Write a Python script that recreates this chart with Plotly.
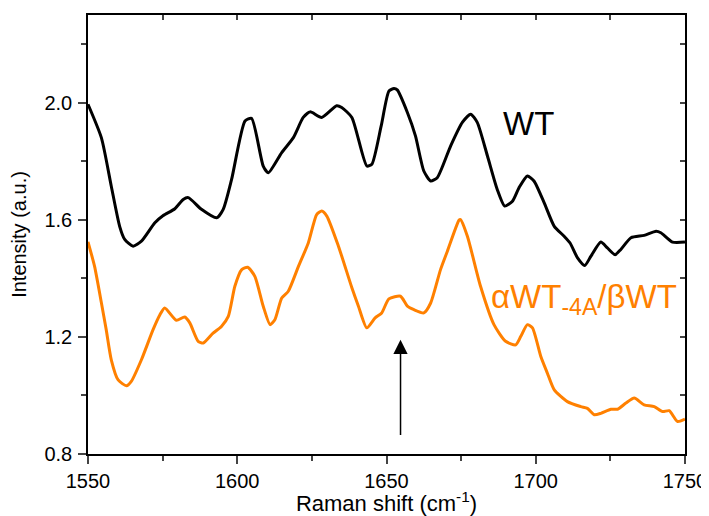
import plotly.graph_objects as go

# WT spectrum
wt_x = [1550.0, 1554.5, 1557.8, 1560.6, 1562.3, 1565.1, 1567.9, 1572.4, 1575.2, 1579.1,
        1581.9, 1583.6, 1588.0, 1593.1, 1595.3, 1598.1, 1602.6, 1604.8, 1608.7, 1610.4,
        1614.9, 1618.8, 1622.1, 1624.4, 1628.3, 1633.3, 1635.0, 1638.4, 1643.4, 1645.1,
        1648.2, 1650.8, 1652.5, 1653.6, 1657.0, 1659.7, 1662.5, 1664.8, 1667.0, 1671.5,
        1675.4, 1678.2, 1680.4, 1683.8, 1687.1, 1689.6, 1692.2, 1694.4, 1697.2, 1699.4,
        1702.8, 1706.2, 1709.5, 1711.5, 1714.0, 1716.4, 1718.5, 1721.8, 1724.0, 1726.6,
        1728.5, 1731.9, 1736.3, 1740.3, 1741.9, 1745.8, 1750.0]
wt_y = [1.995, 1.880, 1.715, 1.578, 1.533, 1.510, 1.527, 1.590, 1.615, 1.638,
        1.670, 1.676, 1.636, 1.607, 1.636, 1.738, 1.938, 1.947, 1.784, 1.761,
        1.830, 1.881, 1.950, 1.969, 1.950, 1.990, 1.984, 1.950, 1.784, 1.790,
        1.920, 2.040, 2.049, 2.044, 1.967, 1.887, 1.767, 1.733, 1.744, 1.853,
        1.933, 1.961, 1.933, 1.819, 1.704, 1.647, 1.664, 1.710, 1.750, 1.733,
        1.659, 1.578, 1.544, 1.521, 1.470, 1.444, 1.476, 1.524, 1.504, 1.481,
        1.499, 1.539, 1.547, 1.561, 1.556, 1.524, 1.524]

# alphaWT-4A/betaWT spectrum
mut_x = [1550.0, 1552.2, 1554.5, 1556.1, 1557.8, 1560.1, 1562.9, 1564.5, 1567.9, 1571.8,
         1574.1, 1575.7, 1579.6, 1582.4, 1584.1, 1586.9, 1588.6, 1591.9, 1594.7, 1597.0,
         1599.2, 1601.5, 1603.5, 1605.9, 1608.7, 1611.0, 1612.6, 1614.9, 1617.1, 1620.5,
         1623.8, 1626.6, 1628.3, 1630.0, 1633.9, 1638.4, 1640.6, 1643.4, 1646.2, 1648.4,
         1650.8, 1654.7, 1657.0, 1659.2, 1662.5, 1664.8, 1668.1, 1670.4, 1674.3, 1674.8,
         1677.1, 1681.5, 1686.0, 1689.9, 1693.3, 1695.0, 1697.2, 1698.9, 1701.7, 1703.9,
         1706.2, 1710.6, 1715.1, 1717.3, 1719.6, 1721.8, 1725.2, 1727.4, 1730.2, 1733.0,
         1736.3, 1739.7, 1742.5, 1744.7, 1747.5, 1750.0]
mut_y = [1.525, 1.441, 1.316, 1.225, 1.122, 1.053, 1.033, 1.048, 1.122, 1.225,
         1.276, 1.299, 1.257, 1.268, 1.248, 1.185, 1.179, 1.213, 1.236, 1.270,
         1.373, 1.430, 1.438, 1.407, 1.305, 1.242, 1.259, 1.333, 1.356, 1.441,
         1.521, 1.618, 1.630, 1.613, 1.510, 1.368, 1.305, 1.231, 1.265, 1.282,
         1.330, 1.339, 1.305, 1.293, 1.282, 1.316, 1.430, 1.493, 1.599, 1.601,
         1.544, 1.373, 1.242, 1.185, 1.173, 1.202, 1.242, 1.231, 1.133, 1.076,
         1.019, 0.979, 0.962, 0.956, 0.934, 0.939, 0.953, 0.953, 0.974, 0.991,
         0.968, 0.962, 0.945, 0.948, 0.911, 0.919]

x_range = [1550, 1750]
y_range = [0.8, 2.3]
x_ticks = [1550, 1600, 1650, 1700, 1750]
y_ticks = [0.8, 1.2, 1.6, 2.0]
y_tick_text = ["0.8", "1.2", "1.6", "2.0"]

orange = "#ff8000"
font = "Liberation Sans, Arial, sans-serif"

fig = go.Figure()
fig.add_trace(go.Scatter(x=wt_x, y=wt_y, mode="lines", name="WT",
                         line=dict(color="black", width=3, shape="spline", smoothing=0.6)))
fig.add_trace(go.Scatter(x=mut_x, y=mut_y, mode="lines", name="aWT-4A/bWT",
                         line=dict(color=orange, width=3, shape="spline", smoothing=0.6)))
# dummy trace so the mirrored axes get drawn
fig.add_trace(go.Scatter(x=[None], y=[None], xaxis="x2", yaxis="y2", showlegend=False))

fig.add_annotation(x=1688.3, y=1.93, text="WT", showarrow=False, xanchor="left",
                   yanchor="middle", xref="x", yref="y",
                   font=dict(size=33, color="black", family=font))
fig.add_annotation(x=1684.3, y=1.33, text="αWT<sub>-4A</sub>/βWT", showarrow=False,
                   xanchor="left", yanchor="middle", xref="x", yref="y",
                   font=dict(size=33, color=orange, family=font))
fig.add_annotation(x=1654.7, y=1.19, ax=1654.7, ay=0.86, axref="x", ayref="y",
                   xref="x", yref="y", text="", showarrow=True,
                   arrowhead=2, arrowsize=1.9, arrowwidth=1.5, arrowcolor="black")

# the page body has an 8px margin, so the figure is offset by that much
fig.update_layout(
    width=701, height=508,
    margin=dict(l=80, r=24, t=7, b=62),
    plot_bgcolor="white", paper_bgcolor="white",
    showlegend=False,
    font=dict(family=font, size=20, color="black"),
    xaxis=dict(
        range=x_range, tickvals=x_ticks, ticks="outside", ticklen=8, tickwidth=1.5,
        showline=True, linecolor="black", linewidth=1.5, showgrid=False, zeroline=False,
        automargin=False, ticklabelstandoff=0,
        minor=dict(dtick=25, tick0=1550, ticks="outside", ticklen=5, tickwidth=1.5),
        title=dict(text="Raman shift (cm<sup>-1</sup>)", font=dict(size=22), standoff=0),
    ),
    yaxis=dict(
        range=y_range, tickvals=y_ticks, ticktext=y_tick_text, ticks="outside", ticklen=8,
        tickwidth=1.5, showline=True, linecolor="black", linewidth=1.5, showgrid=False,
        zeroline=False, automargin=False, ticklabelstandoff=2,
        minor=dict(dtick=0.2, tick0=0.8, ticks="outside", ticklen=5, tickwidth=1.5),
        title=dict(text="Intensity (a.u.)", font=dict(size=20), standoff=14),
    ),
    xaxis2=dict(
        range=x_range, overlaying="x", side="top", tickmode="linear", tick0=1550, dtick=25,
        ticks="inside", ticklen=5, tickwidth=1.5, showticklabels=False, showline=True,
        linecolor="black", linewidth=1.5, showgrid=False, zeroline=False, automargin=False,
    ),
    yaxis2=dict(
        range=y_range, overlaying="y", side="right", tickmode="linear", tick0=0.8, dtick=0.2,
        ticks="inside", ticklen=5, tickwidth=1.5, showticklabels=False, showline=True,
        linecolor="black", linewidth=1.5, showgrid=False, zeroline=False, automargin=False,
    ),
)

fig.write_html("out.html")
